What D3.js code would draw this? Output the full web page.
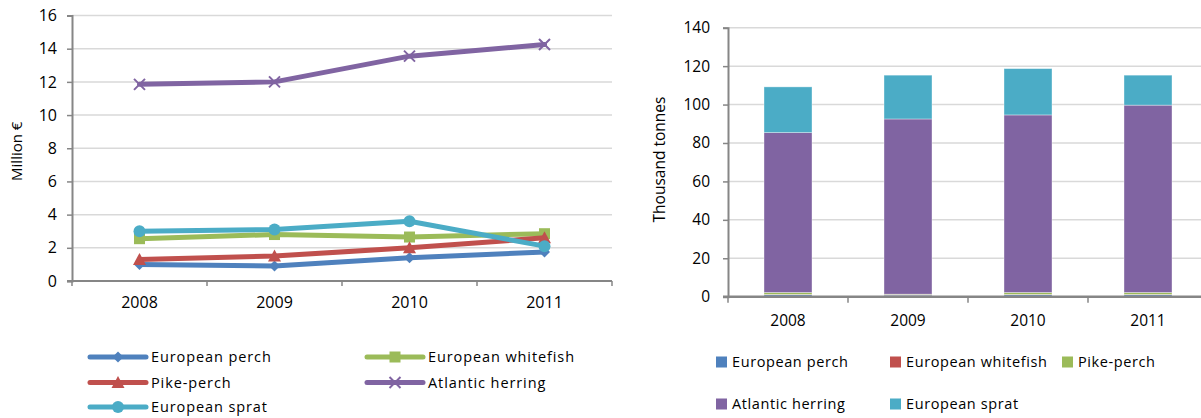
<!DOCTYPE html>
<html><head><meta charset="utf-8">
<script src="https://cdn.jsdelivr.net/npm/d3@7"></script>
<style>
html,body{margin:0;padding:0;background:#fff;}
svg{display:block;font-family:"Open Sans",sans-serif;}
</style></head>
<body>
<svg id="c" width="1201" height="418"></svg>
<script>
// ---- data ----
const years = ["2008", "2009", "2010", "2011"];
const species = ["European perch", "European whitefish", "Pike-perch", "Atlantic herring", "European sprat"];
const lineColors = ["#4F81BD", "#9BBB59", "#C0504D", "#8064A2", "#4BACC6"];
const barColors = ["#4F81BD", "#C0504D", "#9BBB59", "#8064A2", "#4BACC6"];
const markers = ["diamond", "square", "triangle", "x", "circle"];
// Value, million €
const valPerch     = [1.0, 0.9, 1.4, 1.75];
const valWhitefish = [2.55, 2.8, 2.65, 2.85];
const valPikePerch = [1.3, 1.5, 2.0, 2.6];
const valHerring   = [11.85, 12.0, 13.55, 14.25];
const valSprat     = [3.0, 3.1, 3.6, 2.1];
// Volume, thousand tonnes
const volPerch     = [1.0, 0.8, 1.0, 1.0];
const volWhitefish = [0.2, 0.2, 0.2, 0.2];
const volPikePerch = [1.0, 0.3, 1.0, 1.0];
const volHerring   = [83.2, 91.2, 92.4, 97.5];
const volSprat     = [23.8, 22.8, 24.1, 15.6];
const leftTicks = [0, 2, 4, 6, 8, 10, 12, 14, 16];
const rightTicks = [0, 20, 40, 60, 80, 100, 120, 140];

const valueSeries = [valPerch, valWhitefish, valPikePerch, valHerring, valSprat];
const volumeSeries = [volPerch, volWhitefish, volPikePerch, volHerring, volSprat];

const svg = d3.select("#c");
const gridCol = "#D9D9D9", axisCol = "#868686", textCol = "#000";

function markerPath(type, s) {
  const h = s / 2;
  if (type === "diamond") return `M0,${-h}L${h},0L0,${h}L${-h},0Z`;
  if (type === "square") return `M${-h},${-h}H${h}V${h}H${-h}Z`;
  if (type === "triangle") return `M0,${-h-1}L${h+1},${h}L${-h-1},${h}Z`;
  if (type === "x") return `M${-h},${-h}L${h},${h}M${h},${-h}L${-h},${h}`;
  return null;
}
function drawMarker(g, type, color, x, y) {
  if (type === "circle") {
    g.append("circle").attr("cx", x).attr("cy", y).attr("r", 6).attr("fill", color);
  } else if (type === "x") {
    g.append("path").attr("d", markerPath(type, 11)).attr("transform", `translate(${x},${y})`)
      .attr("stroke", color).attr("stroke-width", 2).attr("fill", "none");
  } else {
    g.append("path").attr("d", markerPath(type, 11)).attr("transform", `translate(${x},${y})`)
      .attr("fill", color);
  }
}

// ================= LEFT: line chart =================
{
  const x0 = 72, x1 = 612, yTop = 15.5, yBot = 281;
  const x = d3.scaleBand().domain(years).range([x0, x1]).padding(0);
  const y = d3.scaleLinear().domain([0, 16]).range([yBot, yTop]);
  const g = svg.append("g");
  g.append("g").selectAll("line").data(leftTicks.filter(t => t > 0)).join("line")
    .attr("x1", x0).attr("x2", x1).attr("y1", d => y(d)).attr("y2", d => y(d))
    .attr("stroke", gridCol).attr("stroke-width", 1.5);
  const ya = g.append("g").attr("transform", `translate(${x0},0)`)
    .call(d3.axisLeft(y).tickValues(leftTicks).tickSize(5).tickPadding(10).tickFormat(d3.format("d")));
  ya.attr("font-size", 16).attr("font-family", "Open Sans");
  ya.select(".domain").attr("stroke", axisCol).attr("stroke-width", 2);
  ya.selectAll(".tick line").attr("stroke", axisCol).attr("stroke-width", 1.5);
  ya.selectAll("text").attr("fill", textCol);
  const xa = g.append("g").attr("transform", `translate(0,${yBot})`)
    .call(d3.axisBottom(x).tickSize(0).tickPadding(16));
  xa.attr("font-size", 16).attr("font-family", "Open Sans");
  xa.select(".domain").attr("stroke", axisCol).attr("stroke-width", 2).attr("d", `M${x0-5},0H${x1}`);
  xa.selectAll("text").attr("fill", textCol);
  const bounds = years.map(d => x(d)).concat([x1]);
  g.append("g").selectAll("line").data(bounds).join("line")
    .attr("x1", d => d).attr("x2", d => d).attr("y1", yBot).attr("y2", yBot + 5)
    .attr("stroke", axisCol).attr("stroke-width", 1.5);
  g.append("text").attr("transform", `translate(22,${(yTop + yBot) / 2 + 3}) rotate(-90)`)
    .attr("text-anchor", "middle").attr("font-size", 15).attr("fill", textCol).text("Million €");
  const line = d3.line().x((d, i) => x(years[i]) + x.bandwidth() / 2).y(d => y(d));
  valueSeries.forEach((s, k) => {
    g.append("path").datum(s).attr("d", line).attr("fill", "none")
      .attr("stroke", lineColors[k]).attr("stroke-width", 5).attr("stroke-linejoin", "round").attr("stroke-linecap", "round");
    s.forEach((v, i) => drawMarker(g, markers[k], lineColors[k], x(years[i]) + x.bandwidth() / 2, y(v)));
  });
  const legPos = [[90, 357], [367, 357], [90, 382.5], [367, 382.5], [90, 407]];
  const lg = svg.append("g");
  species.forEach((s, k) => {
    const [lx, ly] = legPos[k];
    lg.append("line").attr("x1", lx).attr("x2", lx + 56).attr("y1", ly).attr("y2", ly)
      .attr("stroke", lineColors[k]).attr("stroke-width", 5).attr("stroke-linecap", "round");
    drawMarker(lg, markers[k], lineColors[k], lx + 28, ly);
    lg.append("text").attr("x", lx + 61).attr("y", ly).attr("dy", "0.35em")
      .attr("font-size", 14.5).attr("letter-spacing", 0.9).attr("fill", textCol).text(s);
  });
}

// ================= RIGHT: stacked bar chart =================
{
  const x0 = 728, x1 = 1208, yTop = 27.7, yBot = 296.7;
  const x = d3.scaleBand().domain(years).range([x0, x1]).paddingInner(0.6).paddingOuter(0.3);
  const xb = d3.scaleBand().domain(years).range([x0, x1]).padding(0);
  const y = d3.scaleLinear().domain([0, 140]).range([yBot, yTop]);
  const g = svg.append("g");
  g.append("g").selectAll("line").data(rightTicks.filter(t => t > 0)).join("line")
    .attr("x1", x0).attr("x2", x1).attr("y1", d => y(d)).attr("y2", d => y(d))
    .attr("stroke", gridCol).attr("stroke-width", 1.5);
  const rows = years.map((yr, i) => {
    const o = { year: yr };
    species.forEach((s, k) => o[s] = volumeSeries[k][i]);
    return o;
  });
  const stack = d3.stack().keys(species)(rows);
  stack.forEach((layer, k) => {
    g.append("g").selectAll("rect").data(layer).join("rect")
      .attr("x", d => x(d.data.year)).attr("width", x.bandwidth())
      .attr("y", d => y(d[1])).attr("height", d => y(d[0]) - y(d[1]))
      .attr("fill", barColors[k]).attr("stroke", "#ffffff").attr("stroke-opacity", 0.45).attr("stroke-width", 0.8);
  });
  const ya = g.append("g").attr("transform", `translate(${x0},0)`)
    .call(d3.axisLeft(y).tickValues(rightTicks).tickSize(5).tickPadding(13).tickFormat(d3.format("d")));
  ya.attr("font-size", 15.5).attr("font-family", "Open Sans");
  ya.select(".domain").attr("stroke", axisCol).attr("stroke-width", 2);
  ya.selectAll(".tick line").attr("stroke", axisCol).attr("stroke-width", 1.5);
  ya.selectAll("text").attr("fill", textCol);
  const xa = g.append("g").attr("transform", `translate(0,${yBot})`)
    .call(d3.axisBottom(xb).tickSize(0).tickPadding(18));
  xa.attr("font-size", 15.5).attr("font-family", "Open Sans");
  xa.select(".domain").attr("stroke", axisCol).attr("stroke-width", 2.5).attr("d", `M${x0-5},0H${x1}`);
  xa.selectAll("text").attr("fill", textCol);
  const bounds = years.map(d => xb(d)).concat([x1]);
  g.append("g").selectAll("line").data(bounds).join("line")
    .attr("x1", d => d).attr("x2", d => d).attr("y1", yBot).attr("y2", yBot + 6)
    .attr("stroke", axisCol).attr("stroke-width", 1.5);
  g.append("text").attr("transform", `translate(665,${(97 + 222) / 2}) rotate(-90)`)
    .attr("text-anchor", "middle").attr("font-size", 15.5).attr("fill", textCol).text("Thousand tonnes");
  const legPos = [[716, 362], [890, 362], [1062, 362], [716, 404], [890, 404]];
  const lg = svg.append("g");
  species.forEach((s, k) => {
    const [lx, ly] = legPos[k];
    lg.append("rect").attr("x", lx).attr("y", ly - 5.5).attr("width", 11).attr("height", 11).attr("fill", barColors[k]);
    lg.append("text").attr("x", lx + 16).attr("y", ly).attr("dy", "0.35em")
      .attr("font-size", 14.5).attr("letter-spacing", 0.6).attr("fill", textCol).text(s);
  });
}
</script>
</body></html>
